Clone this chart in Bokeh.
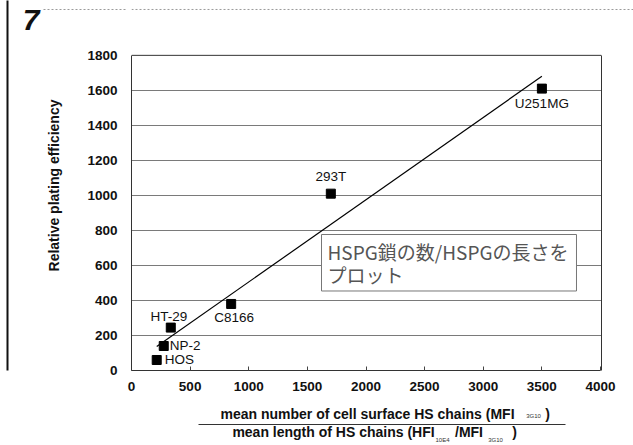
import numpy as np
from bokeh.plotting import figure
from bokeh.models import (ColumnDataSource, Label, LabelSet, LinearAxis,
                          Span, Range1d, FixedTicker)
from bokeh.embed import file_html
from bokeh.resources import INLINE
from bokeh.core.properties import value

# Cell lines: HS chain number / HS chain length vs relative plating efficiency
cells = ["U251MG", "293T", "C8166", "HT-29", "NP-2", "HOS"]
hs_ratio = [3500, 1700, 850, 335, 275, 215]
plating = [1610, 1010, 380, 245, 140, 60]

x_ticks = [0, 500, 1000, 1500, 2000, 2500, 3000, 3500, 4000]
y_ticks = [0, 200, 400, 600, 800, 1000, 1200, 1400, 1600, 1800]

y_title = "Relative plating efficiency"
num_text = ["mean number of cell surface HS chains (MFI", ")"]
num_sub = ["3G10"]
den_text = ["mean length of HS chains (HFI", "/MFI", ")"]
den_sub = ["10E4", "3G10"]
note_text = "HSPG鎖の数/HSPGの長さを\nプロット"
panel_no = "7"

# label placement per cell line (pixel offsets / alignment)
lbl_dx = [0, 0, 3, -2, 6, 8]
lbl_dy = [-15, 17, -14, 11, 0, 0]
lbl_align = ["center", "center", "center", "center", "left", "left"]

W, H = 633, 445
L, R, T, B = 131, 600, 55, 371   # plot box in page pixels
FR = R + 1                          # frame right edge
FONT = "Liberation Sans"

x_max, y_max = x_ticks[-1], y_ticks[-1]
x_end = x_max * (FR - L) / (R - L)
y_end = y_max * B / (B - T)

# the frame reaches the top of the page so the page header can be drawn
p = figure(width=W, height=H, output_backend="svg", toolbar_location=None,
           x_range=Range1d(0, x_end), y_range=Range1d(0, y_end),
           min_border_left=L, min_border_right=W - FR,
           min_border_top=0, min_border_bottom=H - B)
p.background_fill_color = "white"
p.border_fill_color = "white"
p.outline_line_color = None

# pixel-valued helper ranges for the page furniture around the plot
p.extra_x_ranges = {"px": Range1d(L, FR)}
p.extra_y_ranges = {"py": Range1d(B, 0)}

# horizontal grid, top edge of the box drawn darker
p.xgrid.visible = False
p.ygrid.ticker = FixedTicker(ticks=y_ticks[1:-1])
p.ygrid.grid_line_color = "#7a7a7a"
p.ygrid.grid_line_width = 1
top_edge = y_max
p.add_layout(Span(location=top_edge, dimension="width",
                  line_color="#333333", line_width=1))

p.yaxis.ticker = FixedTicker(ticks=y_ticks)
p.xaxis.ticker = FixedTicker(ticks=x_ticks)
p.yaxis.bounds = (0, y_max)
p.xaxis.bounds = (0, x_max)
for ax in (p.xaxis, p.yaxis):
    ax.axis_line_color = "#333333"
    ax.minor_tick_line_color = None
    ax.major_label_text_font = FONT
    ax.major_label_text_font_style = "bold"
    ax.major_label_text_font_size = "13.5px"
    ax.major_label_text_color = "#111111"
p.yaxis.major_tick_line_color = None
p.yaxis.major_tick_in = 0
p.yaxis.major_tick_out = 0
p.yaxis.major_label_standoff = 14
p.yaxis.axis_label = y_title
p.yaxis.axis_label_text_font = FONT
p.yaxis.axis_label_text_font_style = "bold"
p.yaxis.axis_label_text_font_size = "14px"
p.yaxis.axis_label_text_color = "#111111"
p.yaxis.axis_label_standoff = 22
p.xaxis.major_tick_in = 4
p.xaxis.major_tick_out = 0
p.xaxis.major_tick_line_color = "#444444"
p.xaxis.major_label_standoff = 11


def key_map(ticks, labels):
    out = {}
    for t, s in zip(ticks, labels):
        out[t] = s
        out[str(int(t)) if float(t).is_integer() else str(t)] = s
    return out


def side_axis(side, bounds, ticks=(), labels=(), size="10px", style="normal",
              font=FONT, standoff=0, line_color=None, line_width=1,
              line_dash="solid", color="#111111", rng=None):
    if side in ("below", "above"):
        ax = LinearAxis(x_range_name=rng or "px")
    else:
        ax = LinearAxis(y_range_name=rng or "py")
    ax.bounds = bounds
    ax.ticker = FixedTicker(ticks=list(ticks))
    if labels:
        ax.major_label_overrides = key_map(ticks, labels)
    ax.major_tick_in = 0
    ax.major_tick_out = 0
    ax.major_tick_line_color = None
    ax.minor_tick_line_color = None
    ax.major_label_standoff = standoff
    ax.major_label_text_font = font
    ax.major_label_text_font_style = style
    ax.major_label_text_font_size = size
    ax.major_label_text_color = color
    ax.axis_line_color = line_color
    ax.axis_line_width = line_width
    ax.axis_line_dash = line_dash
    p.add_layout(ax, side)
    return ax


# x-axis title written as a fraction (numerator / bar / denominator)
side_axis("below", (525, 541), [533], num_sub, size="6px", standoff=19,
          color="#333333")
side_axis("below", (210, 555), [367, 547], num_text, size="14px",
          style="bold", standoff=-16)
side_axis("below", (198, 565), [442, 495], den_sub, size="6px", standoff=12,
          line_color="#333333", line_width=1, color="#333333")
side_axis("below", (230, 520), [333, 468.5, 514], den_text, size="14px",
          style="bold", standoff=-22)

# header rule: left stub, across the frame, right tail
stub = side_axis("left", (5, 13), [9], color=None)
stub.major_tick_in = 82
stub.major_tick_line_color = "#9a9a9a"
stub.major_tick_line_dash = "2 2"
hdr_y = y_max * (B - 9) / (B - T)
p.add_layout(Span(location=hdr_y, dimension="width", line_color="#9a9a9a",
                  line_width=1, line_dash="2 2"))

# right edge of the box, then the tail of the header rule
side_axis("right", (0, y_max), line_color="#333333", line_width=1, rng="default")
tail = side_axis("right", (5, 13), [9], color=None)
tail.major_tick_out = W - FR
tail.major_tick_line_color = "#9a9a9a"
tail.major_tick_line_dash = "2 2"

# panel number, top-left
side_axis("left", (0, 6), [1], [panel_no], size="30px", style="bold italic",
          standoff=4)
gap = side_axis("left", (36, 44), [40], color=None)
gap.major_tick_out = 12
gap.major_tick_line_color = "white"
# left margin rule
side_axis("left", (0, B), line_color="#111111", line_width=2)

src = ColumnDataSource(dict(x=hs_ratio, y=plating, name=cells, dx=lbl_dx,
                            dy=lbl_dy, align=lbl_align))

# least-squares trend line through the cell lines
k, b0 = np.polyfit(hs_ratio, plating, 1)
xs = np.array([min(hs_ratio), max(hs_ratio)])
p.line(xs, k * xs + b0, line_color="black", line_width=1.2)

p.scatter("x", "y", source=src, marker="square", size=9,
          fill_color="black", line_color="black")

p.add_layout(LabelSet(x="x", y="y", text="name", source=src,
                      x_offset="dx", y_offset="dy", text_align="align",
                      text_baseline="middle", text_font=value(FONT),
                      text_font_size="13.5px", text_color="#111111"))

# boxed note
p.add_layout(Label(x=321 - L, y=B - 235, x_units="screen", y_units="screen",
                   text=note_text,
                   text_font="Noto Sans CJK JP", text_font_size="19px",
                   text_baseline="top", text_line_height=0.87,
                   text_color="#555555",
                   background_fill_color="white",
                   border_line_color="#777777", border_line_width=1,
                   padding=dict(left=6, right=8, top=3, bottom=3)))

open("out.html", "w").write(file_html(p, INLINE))
